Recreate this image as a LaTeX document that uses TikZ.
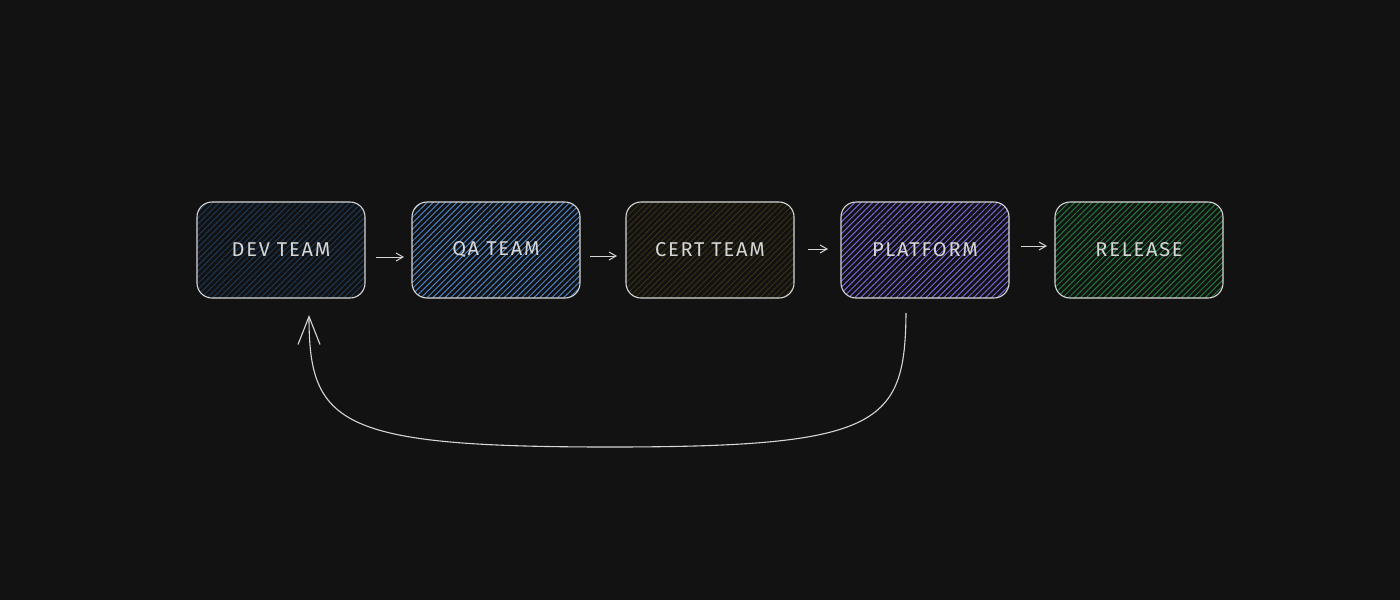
\documentclass[tikz,border=0pt]{standalone}
\usepackage{fontspec}
\setmainfont{Fira Sans}
\usetikzlibrary{patterns.meta,arrows.meta}
\definecolor{bg}{HTML}{121212}
\definecolor{stroke}{HTML}{D6D6D6}
\definecolor{hdev}{HTML}{1D3857}
\definecolor{hqa}{HTML}{4A80C4}
\definecolor{hcert}{HTML}{382F12}
\definecolor{hplat}{HTML}{7464D6}
\definecolor{hrel}{HTML}{1F7A3C}
\tikzset{
  stage/.style={draw=stroke, line width=1.1pt, rounded corners=15pt,
    minimum width=168pt, minimum height=96pt, inner sep=0pt,
    text=stroke, font=\fontsize{20}{24}\selectfont\addfontfeatures{LetterSpace=9}},
  hatch/.style={pattern={Lines[angle=45,distance=4.2pt,line width=1pt]}, pattern color=#1},
  link/.style={draw=stroke, line width=1pt, -{Straight Barb[length=7pt,width=8pt]}},
}
\begin{document}
\begin{tikzpicture}[x=1pt,y=-1pt]
\fill[bg] (0,0) rectangle (1400,600);
\useasboundingbox (0,0) rectangle (1400,600);
\node[stage, hatch=hdev]  (dev)  at (281,250) {DEV TEAM};
\node[stage, hatch=hqa]   (qa)   at (496,250) {QA TEAM};
\node[stage, hatch=hcert] (cert) at (710,250) {CERT TEAM};
\node[stage, hatch=hplat] (plat) at (925,250) {PLATFORM};
\node[stage, hatch=hrel]  (rel)  at (1139,250) {RELEASE};
\coordinate (a1s) at (376,257); \coordinate (a1e) at (404,257);
\coordinate (a2s) at (590,256); \coordinate (a2e) at (617,256);
\coordinate (a3s) at (808,249); \coordinate (a3e) at (828,249);
\coordinate (a4s) at (1021,246); \coordinate (a4e) at (1047,246);
\draw[link] (a1s) -- (a1e);
\draw[link] (a2s) -- (a2e);
\draw[link] (a3s) -- (a3e);
\draw[link] (a4s) -- (a4e);
\coordinate (ls) at (906,313);
\coordinate (le) at (309,315);
\draw[draw=stroke, line width=1.1pt, -{Straight Barb[length=28pt,width=22pt]}]
  (ls) .. controls (905,425) and (880,447) .. (610,447)
       .. controls (340,447) and (309,425) .. (le);
\end{tikzpicture}
\end{document}
